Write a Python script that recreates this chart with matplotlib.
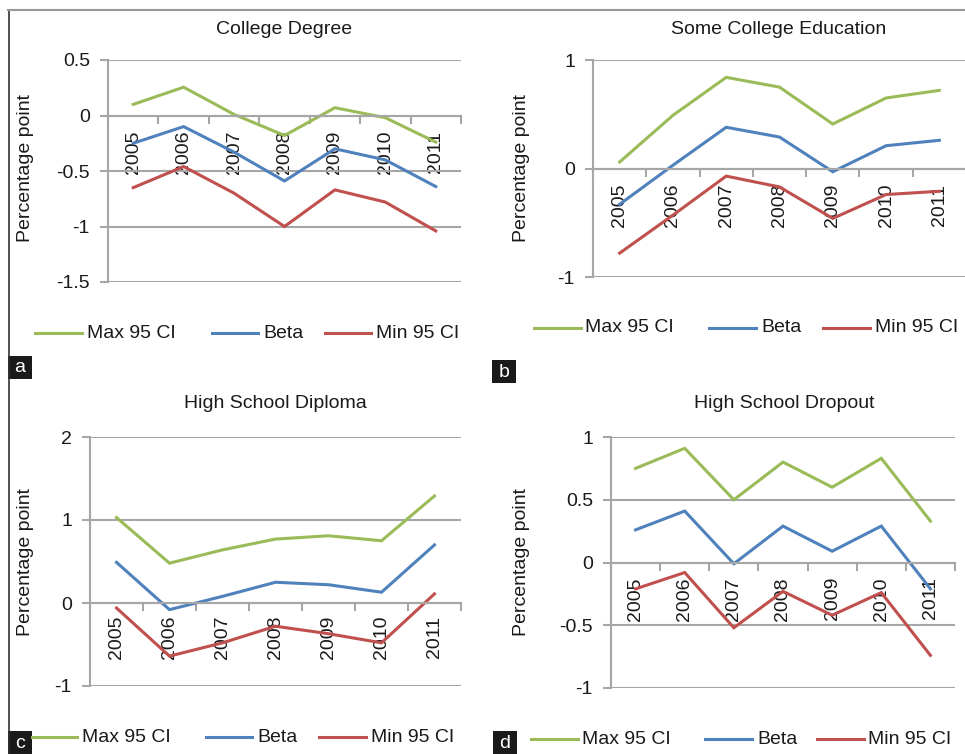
import matplotlib
matplotlib.use("Agg")
import matplotlib.pyplot as plt
from matplotlib.lines import Line2D
from matplotlib.patches import Rectangle
from matplotlib.ticker import FixedLocator, FuncFormatter

plt.rcParams['font.family'] = ['Liberation Sans', 'DejaVu Sans']
plt.rcParams['axes.unicode_minus'] = False

W, H = 965, 754
DPI = 100

years = ["2005", "2006", "2007", "2008", "2009", "2010", "2011"]
series_names = ["Max 95 CI", "Beta", "Min 95 CI"]

# College Degree
college_max = [0.10, 0.255, 0.01, -0.18, 0.07, -0.02, -0.24]
college_beta = [-0.25, -0.10, -0.33, -0.59, -0.30, -0.40, -0.64]
college_min = [-0.65, -0.46, -0.70, -1.00, -0.67, -0.78, -1.04]

# Some College Education
some_max = [0.06, 0.49, 0.84, 0.75, 0.41, 0.65, 0.72]
some_beta = [-0.33, 0.03, 0.38, 0.29, -0.03, 0.21, 0.26]
some_min = [-0.78, -0.43, -0.07, -0.17, -0.46, -0.24, -0.21]

# High School Diploma
hs_max = [1.03, 0.48, 0.64, 0.77, 0.81, 0.75, 1.29]
hs_beta = [0.49, -0.08, 0.08, 0.25, 0.22, 0.13, 0.70]
hs_min = [-0.06, -0.64, -0.48, -0.28, -0.37, -0.48, 0.11]

# High School Dropout
drop_max = [0.75, 0.91, 0.50, 0.80, 0.60, 0.83, 0.33]
drop_beta = [0.26, 0.41, -0.01, 0.29, 0.09, 0.29, -0.21]
drop_min = [-0.21, -0.08, -0.52, -0.23, -0.42, -0.24, -0.74]

colors = ["#9BBB59", "#4F81BD", "#C0504D"]
GRID = "#a6a6a6"
TXT = "#1a1a1a"
FS = 14

fig = plt.figure(figsize=(W / DPI, H / DPI), dpi=DPI)


def fx(x):
    return x / W


def fy(y):
    return 1 - y / H


def rect(l, r, t, b):
    return [fx(l), fy(b), (r - l) / W, (b - t) / H]


panels = [
    dict(title="College Degree", data=(college_max, college_beta, college_min),
         box=(108, 461, 60, 282), ylim=(-1.5, 0.5), step=0.5, pad=11,
         title_xy=(284, 30), ylab_xy=(26, 168), leg_y=333,
         leg_x=[(35, 82, 87), (212, 258, 263), (325, 371, 376)],
         tag="a", tag_box=(8, 356)),
    dict(title="Some College Education", data=(some_max, some_beta, some_min),
         box=(593, 966, 60, 277), ylim=(-1, 1), step=1, pad=11,
         title_xy=(779, 30), ylab_xy=(521, 168), leg_y=328,
         leg_x=[(534, 581, 585), (709, 756, 761), (823, 870, 875)],
         tag="b", tag_box=(492, 360)),
    dict(title="High School Diploma", data=(hs_max, hs_beta, hs_min),
         box=(90, 461, 437, 686), ylim=(-1, 2), step=1, pad=9,
         title_xy=(275, 404), ylab_xy=(26, 562), leg_y=737,
         leg_x=[(32, 77, 82), (206, 252, 257), (319, 366, 371)],
         tag="c", tag_box=(8, 731)),
    dict(title="High School Dropout", data=(drop_max, drop_beta, drop_min),
         box=(611, 955, 437, 688), ylim=(-1, 1), step=0.5, pad=10.5,
         title_xy=(784, 404), ylab_xy=(521, 562), leg_y=739,
         leg_x=[(531, 578, 582), (705, 752, 757), (817, 864, 868)],
         tag="d", tag_box=(493, 731)),
]

xs = list(range(len(years)))

for p in panels:
    ax = fig.add_axes(rect(*p["box"]))
    lo, hi = p["ylim"]
    ax.set_xlim(-0.5, len(years) - 0.5)
    ax.set_ylim(lo, hi)
    yt = []
    v = lo
    while v <= hi + 1e-9:
        yt.append(round(v, 3))
        v += p["step"]
    ax.yaxis.set_major_locator(FixedLocator(yt))
    ax.yaxis.set_major_formatter(FuncFormatter(lambda val, pos: "%g" % val))
    ax.grid(axis="y", color=GRID, lw=1.5)
    ax.set_axisbelow(True)
    for s in ("top", "right"):
        ax.spines[s].set_visible(False)
    ax.spines["left"].set_color(GRID)
    ax.spines["left"].set_linewidth(1.5)
    ax.spines["bottom"].set_position(("data", 0))
    ax.spines["bottom"].set_color(GRID)
    ax.spines["bottom"].set_linewidth(1.5)
    ax.patch.set_visible(False)

    ax.set_xticks(xs)
    ax.set_xticklabels(years, rotation=90, fontsize=FS, color=TXT)
    ax.tick_params(axis="x", which="major", length=0, pad=p["pad"])
    ax.set_xticks([i - 0.5 for i in range(len(years) + 1)], minor=True)
    ax.tick_params(axis="x", which="minor", length=6, width=1.5,
                   color=GRID, direction="out")
    ax.tick_params(axis="y", length=6, width=1.5, color=GRID,
                   labelsize=FS, labelcolor=TXT, pad=7)

    for vals, c in zip(p["data"], colors):
        ax.plot(xs, vals, color=c, lw=2.2, solid_joinstyle="miter", clip_on=False)

    tx, ty = p["title_xy"]
    fig.text(fx(tx), fy(ty), p["title"], ha="center", va="center",
             fontsize=FS, color=TXT)
    lx, ly = p["ylab_xy"]
    fig.text(fx(lx), fy(ly), "Percentage point", ha="center", va="center",
             rotation=90, fontsize=FS, color=TXT)

    for (x0, x1, xt), c, name in zip(p["leg_x"], colors, series_names):
        fig.add_artist(Line2D([fx(x0), fx(x1)], [fy(p["leg_y"])] * 2,
                              color=c, lw=2.2, transform=fig.transFigure))
        fig.text(fx(xt), fy(p["leg_y"]), name, ha="left", va="center",
                 fontsize=FS, color=TXT)

    bx, by = p["tag_box"]
    fig.add_artist(Rectangle((fx(bx), fy(by + 23)), 24 / W, 23 / H,
                             facecolor="#1a1a1a", edgecolor="none",
                             transform=fig.transFigure))
    fig.text(fx(bx + 12), fy(by + 12), p["tag"], ha="center", va="center",
             fontsize=FS, color="white")

# page frame: left rule and top rule
fig.add_artist(Line2D([fx(8.5), fx(8.5)], [fy(10), fy(754)], color="#333333",
                      lw=1.2, transform=fig.transFigure))
fig.add_artist(Line2D([fx(8), fx(965)], [fy(10), fy(10)], color="#999999",
                      lw=1.5, transform=fig.transFigure))

fig.savefig("out.png", dpi=DPI)
